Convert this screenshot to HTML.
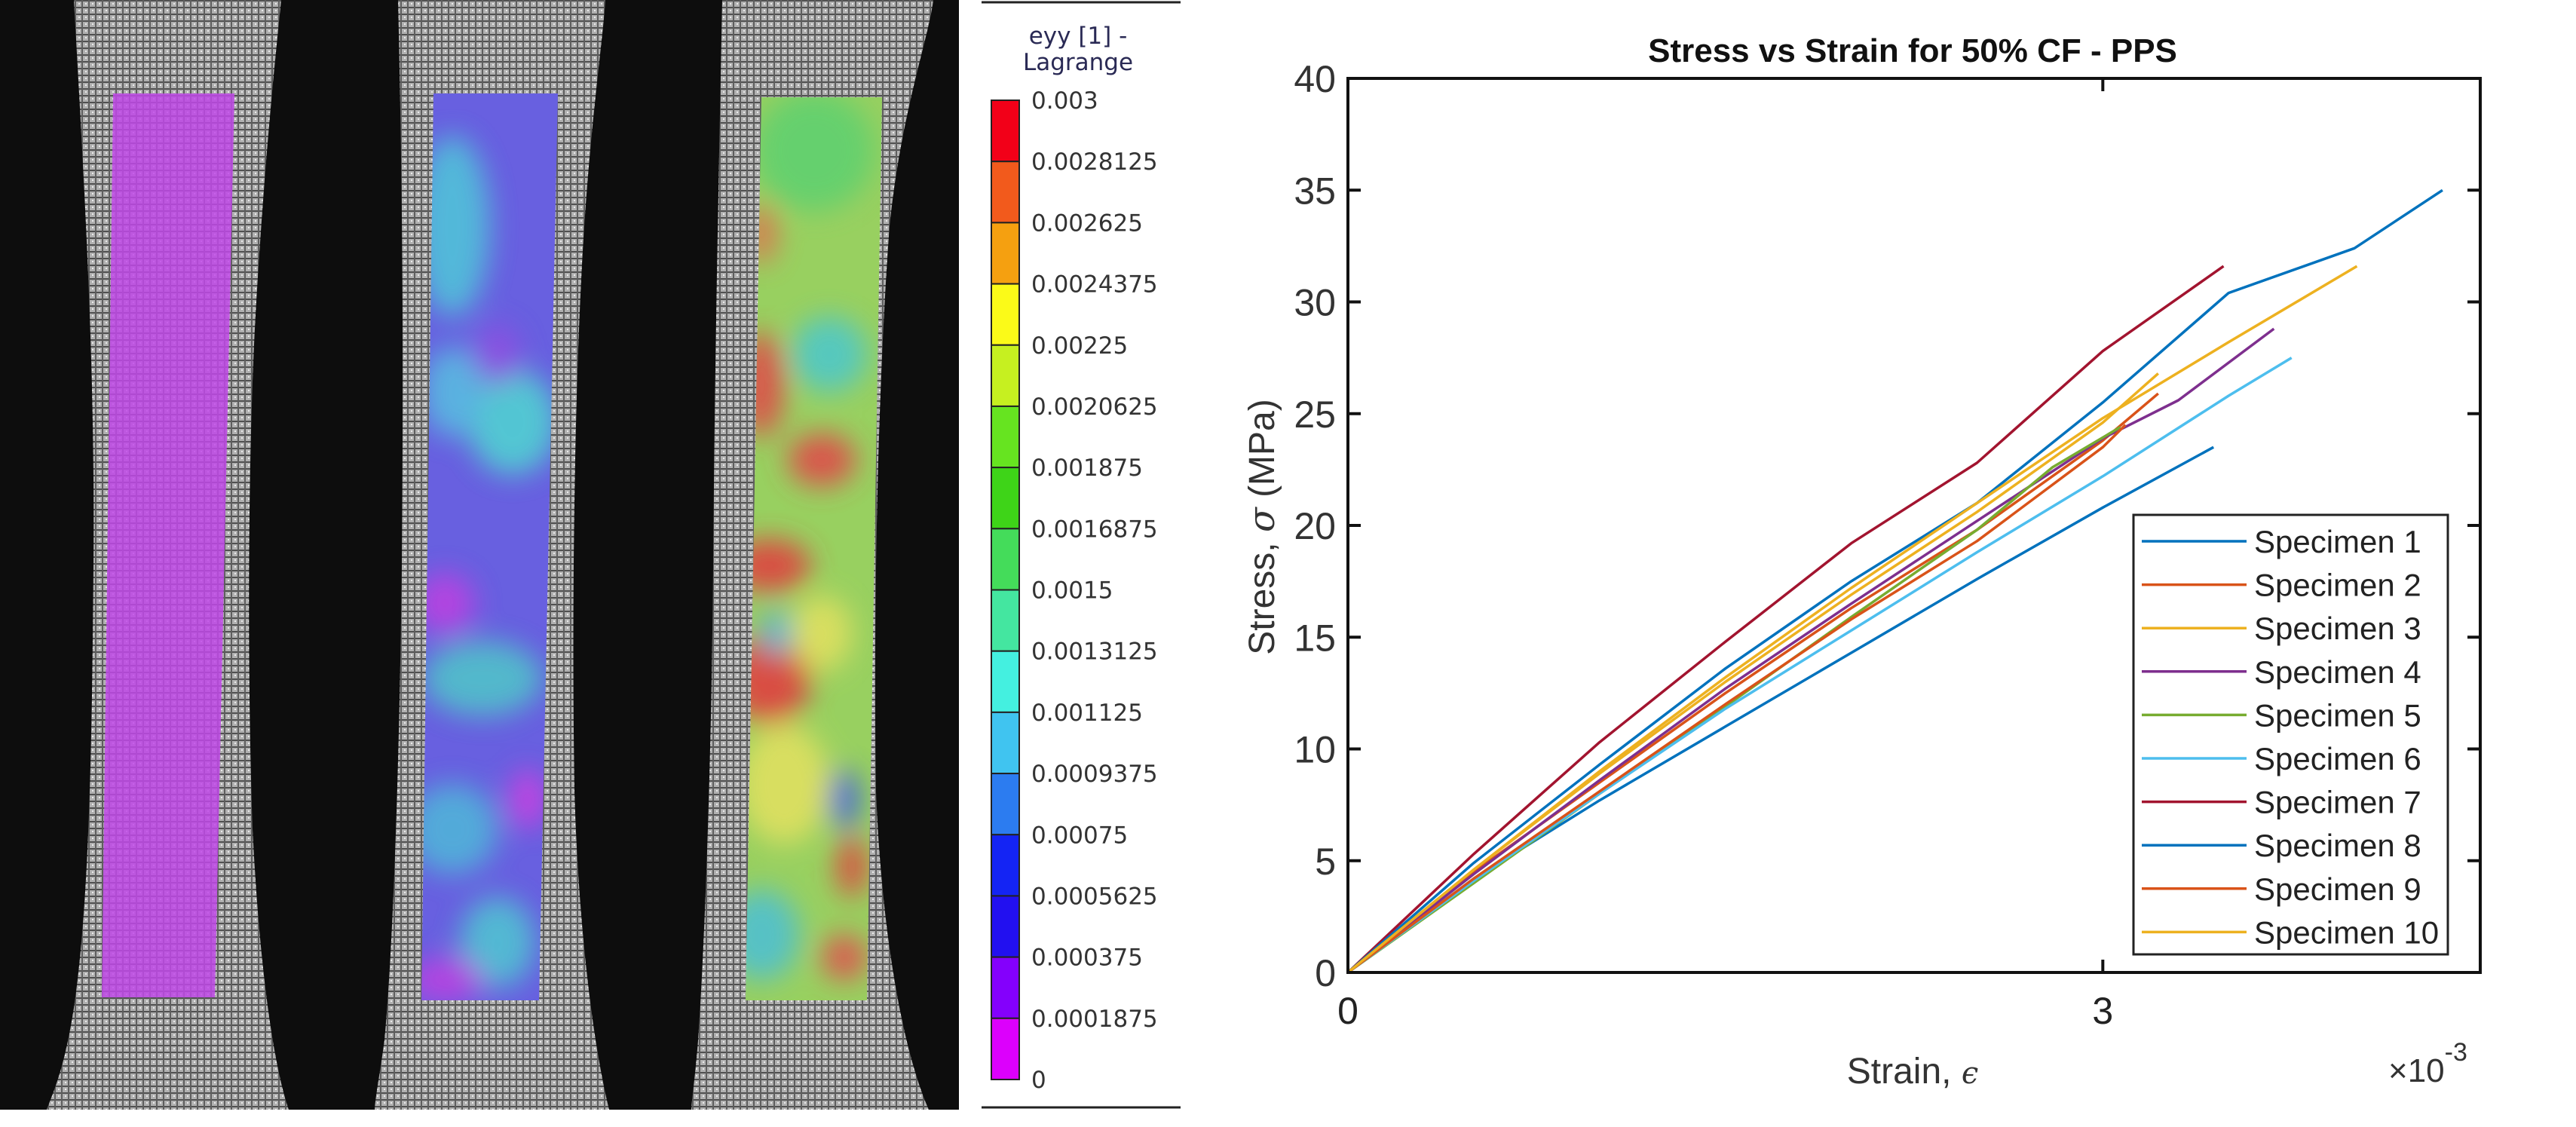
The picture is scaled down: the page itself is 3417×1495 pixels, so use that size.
<!DOCTYPE html>
<html><head><meta charset="utf-8"><style>
html,body{margin:0;padding:0;background:#fff;}
body{width:3417px;height:1495px;position:relative;overflow:hidden;font-family:"Liberation Sans",Arial,sans-serif;}
svg{position:absolute;left:0;top:0;}
</style></head><body>
<svg width="3417" height="1495" viewBox="0 0 3417 1495">
<defs>
<pattern id="speck" width="9" height="9" patternUnits="userSpaceOnUse">
<rect width="9" height="9" fill="#b0b0b0"/>
<rect x="0" y="0" width="9" height="2" fill="#505050"/>
<rect x="0" y="0" width="2" height="9" fill="#5e5e5e"/>
<rect x="5" y="4" width="2" height="2" fill="#eaeaea"/>
</pattern>
<filter id="blur" x="-50%" y="-50%" width="200%" height="200%"><feGaussianBlur stdDeviation="18"/></filter>
<clipPath id="c2"><polygon points="575,124 740,124 715,1327 559,1327"/></clipPath>
<clipPath id="c3"><polygon points="1010,129 1170,129 1150,1327 989,1327"/></clipPath>
</defs>

<g>
<rect x="0" y="0" width="1272" height="1472" fill="#0d0d0d"/>
<path fill="url(#speck)" d="M98,0 C115,300 126,500 124,750 C122,1000 118,1200 98,1337 C85,1420 70,1450 62,1472 L383,1472 C365,1420 345,1300 335,1100 C328,900 328,600 340,400 C352,200 365,80 373,0 Z"/>
<path fill="url(#speck)" d="M528,0 C535,300 535,500 533,750 C530,1000 522,1250 510,1380 C503,1430 498,1455 497,1472 L808,1472 C790,1400 768,1250 762,1050 C758,800 762,500 775,300 C785,150 800,50 803,0 Z"/>
<path fill="url(#speck)" d="M958,0 C952,300 948,500 946,750 C944,1000 935,1250 926,1380 C922,1430 918,1455 917,1472 L1232,1472 C1200,1400 1170,1250 1162,1050 C1158,800 1165,500 1180,300 C1195,150 1232,50 1238,0 Z"/>
<polygon points="150,124 311,124 285,1323 135,1323" fill="#c048e8" opacity="0.85"/>
<g clip-path="url(#c2)">
<rect x="540" y="120" width="220" height="1220" fill="#6860e0"/>
<g filter="url(#blur)" opacity="0.85">
<ellipse cx="600" cy="300" rx="50" ry="120" fill="#50c8d8"/>
<ellipse cx="680" cy="560" rx="60" ry="70" fill="#50d8d0"/>
<ellipse cx="600" cy="520" rx="40" ry="60" fill="#58c0e0"/>
<ellipse cx="640" cy="900" rx="80" ry="50" fill="#50c8c8"/>
<ellipse cx="600" cy="1100" rx="60" ry="60" fill="#50b8d8"/>
<ellipse cx="660" cy="1250" rx="50" ry="60" fill="#50c8d0"/>
<ellipse cx="590" cy="800" rx="40" ry="40" fill="#c040e0"/>
<ellipse cx="700" cy="1060" rx="25" ry="40" fill="#d040e0"/>
<ellipse cx="590" cy="1300" rx="50" ry="30" fill="#c040e0"/>
<ellipse cx="660" cy="470" rx="30" ry="40" fill="#9050e0"/>
</g>
</g>
<g clip-path="url(#c3)">
<rect x="980" y="120" width="200" height="1220" fill="#98d060"/>
<g filter="url(#blur)" opacity="0.9">
<ellipse cx="1080" cy="200" rx="80" ry="80" fill="#60d070"/>
<ellipse cx="1100" cy="470" rx="50" ry="50" fill="#50c8c8"/>
<ellipse cx="1010" cy="510" rx="30" ry="70" fill="#e04848"/>
<ellipse cx="1090" cy="610" rx="45" ry="35" fill="#e04848"/>
<ellipse cx="1020" cy="750" rx="55" ry="35" fill="#e04040"/>
<ellipse cx="1020" cy="900" rx="55" ry="60" fill="#e04040"/>
<ellipse cx="1010" cy="310" rx="20" ry="40" fill="#e07050"/>
<ellipse cx="1090" cy="840" rx="40" ry="50" fill="#e0e060"/>
<ellipse cx="1040" cy="1040" rx="60" ry="80" fill="#e0e060"/>
<ellipse cx="1120" cy="1060" rx="20" ry="40" fill="#4060e0"/>
<ellipse cx="1130" cy="1150" rx="20" ry="40" fill="#e04040"/>
<ellipse cx="1010" cy="1240" rx="50" ry="60" fill="#50c0d0"/>
<ellipse cx="1120" cy="1270" rx="30" ry="30" fill="#e05050"/>
<ellipse cx="1030" cy="840" rx="20" ry="30" fill="#50b0e0"/>
</g>
</g>
</g>

<g>
<line x1="1302" y1="3" x2="1566" y2="3" stroke="#222" stroke-width="3"/>
<line x1="1302" y1="1469" x2="1566" y2="1469" stroke="#222" stroke-width="3"/>
<text x="1430" y="58" font-size="31" fill="#2a2a55" text-anchor="middle" font-family="DejaVu Sans, sans-serif">eyy [1] -</text>
<text x="1430" y="93" font-size="31" fill="#2a2a55" text-anchor="middle" font-family="DejaVu Sans, sans-serif">Lagrange</text>
<g id="cbar"></g>
</g>

<g>
<text x="2537" y="82" font-size="44" font-weight="bold" text-anchor="middle" fill="#111">Stress vs Strain for 50% CF - PPS</text>
<g id="series"></g>
<g id="axes"></g>
<text x="2537" y="1437" font-size="48" text-anchor="middle" fill="#333">Strain, <tspan font-family="DejaVu Serif, serif" font-style="italic" font-size="40">ϵ</tspan></text>
<text x="3168" y="1435" font-size="44" fill="#333">×10<tspan font-size="34" dy="-28">-3</tspan></text>
<text transform="translate(1690,699) rotate(-90)" font-size="48" text-anchor="middle" fill="#333">Stress, <tspan font-family="DejaVu Serif, serif" font-style="italic">σ</tspan> (MPa)</text>
<g id="legend"></g>
</g>
</svg>
<script>
const NS = "http://www.w3.org/2000/svg";
// colorbar data
const cbarLabels = ["0.003","0.0028125","0.002625","0.0024375","0.00225","0.0020625","0.001875","0.0016875","0.0015","0.0013125","0.001125","0.0009375","0.00075","0.0005625","0.000375","0.0001875","0"];
const cbarColors = ["#f20018","#f25a1c","#f5a010","#fbfa18","#c6f020","#66e420","#3ed418","#44dc5a","#44e6a0","#44f0e0","#40c4f0","#2c7cf0","#1424f4","#2210f0","#8400fc","#dc00fc"];
// chart data (strain in 1e-3, stress in MPa)
const names = ["Specimen 1","Specimen 2","Specimen 3","Specimen 4","Specimen 5","Specimen 6","Specimen 7","Specimen 8","Specimen 9","Specimen 10"];
const colors = ["#0072BD","#D95319","#EDB120","#7E2F8E","#77AC30","#4DBEEE","#A2142F","#0072BD","#D95319","#EDB120"];
const s1x = [0,0.5,1,1.5,2,2.5,3,3.44], s1y = [0,4.2,7.7,11,14.3,17.6,20.8,23.5];
const s2x = [0,0.5,1,1.5,2,2.5,3,3.22], s2y = [0,4.5,8.5,12.5,16.3,19.8,23.8,25.9];
const s3x = [0,0.5,1,1.5,2,2.5,3,3.22], s3y = [0,4.6,8.9,13,16.9,20.6,24.6,26.8];
const s4x = [0,0.5,1,1.5,2,2.5,3,3.3,3.68], s4y = [0,4.4,8.6,12.7,16.5,20.2,23.9,25.6,28.8];
const s5x = [0,0.5,1,1.5,2,2.5,2.8,3.07], s5y = [0,4.0,8.0,11.9,15.9,19.8,22.6,24.4];
const s6x = [0,0.5,1,1.5,2,2.5,3,3.5,3.75], s6y = [0,4.1,8.0,11.8,15.3,18.8,22.2,25.8,27.5];
const s7x = [0,0.5,1,1.5,2,2.5,3,3.48], s7y = [0,5.3,10.3,14.8,19.2,22.8,27.8,31.6];
const s8x = [0,0.5,1,1.5,2,2.5,3,3.5,4,4.35], s8y = [0,4.9,9.3,13.6,17.5,21,25.5,30.4,32.4,35.0];
const s9x = [0,0.5,1,1.5,2,2.5,3,3.09], s9y = [0,4.2,8.1,12,15.8,19.3,23.5,24.5];
const s10x = [0,0.5,1,1.5,2,2.5,3,3.5,4.01], s10y = [0,4.6,9,13.2,17.2,21,24.8,28.2,31.6];
const yTicks = [0,5,10,15,20,25,30,35,40];
const xTicks = [0,3];
const xTickLabels = ["0","3"];

const seriesX = [s1x,s2x,s3x,s4x,s5x,s6x,s7x,s8x,s9x,s10x];
const seriesY = [s1y,s2y,s3y,s4y,s5y,s6y,s7y,s8y,s9y,s10y];

const L=1788,R=3290,T=104,B=1290,XMAX=4.5,YMAX=40;
const sx = v => L + v/XMAX*(R-L);
const sy = v => B - v/YMAX*(B-T);
function el(tag, attrs, parent){const e=document.createElementNS(NS,tag);for(const k in attrs)e.setAttribute(k,attrs[k]);parent.appendChild(e);return e;}

// colorbar
const cb=document.getElementById('cbar');
const cbT=133,cbB=1432,seg=(cbB-cbT)/cbarColors.length;
cbarColors.forEach((c,i)=>{
  const r=el('rect',{x:1315,y:cbT+i*seg,width:37,height:seg,fill:c,stroke:'#222','stroke-width':2},cb);
  
  
});
cbarLabels.forEach((t,i)=>{
  const tx=el('text',{x:1368,y:cbT+i*seg+11,'font-size':31,fill:'#333','font-family':'DejaVu Sans, sans-serif'},cb);
  tx.textContent=t;
  
  
});

// series
const sg=document.getElementById('series');
seriesX.forEach((xs,i)=>{
  const d=xs.map((x,j)=>(j?'L':'M')+sx(x).toFixed(1)+','+sy(seriesY[i][j]).toFixed(1)).join(' ');
  const p=el('path',{d:d,fill:'none',stroke:colors[i],'stroke-width':3.5,'stroke-linejoin':'round'},sg);
  
  
});

// axes
const ax=document.getElementById('axes');
const fr=el('rect',{x:L,y:T,width:R-L,height:B-T,fill:'none',stroke:'#111','stroke-width':4},ax);


yTicks.forEach(v=>{
  const y=sy(v);
  el('line',{x1:L,y1:y,x2:L+17,y2:y,stroke:'#111','stroke-width':4},ax);
  el('line',{x1:R,y1:y,x2:R-17,y2:y,stroke:'#111','stroke-width':4},ax);
  const t=el('text',{x:1772,y:y+18,'font-size':50,'text-anchor':'end',fill:'#333'},ax);
  t.textContent=String(v);
  
  
});
xTicks.forEach((v,i)=>{
  const x=sx(v);
  el('line',{x1:x,y1:B,x2:x,y2:B-17,stroke:'#111','stroke-width':4},ax);
  el('line',{x1:x,y1:T,x2:x,y2:T+17,stroke:'#111','stroke-width':4},ax);
  const t=el('text',{x:x,y:1358,'font-size':50,'text-anchor':'middle',fill:'#222'},ax);
  t.textContent=xTickLabels[i];
  
  
});

// legend
const lg=document.getElementById('legend');
el('rect',{x:2830,y:683,width:417,height:583,fill:'#fff',stroke:'#222','stroke-width':3},lg);
names.forEach((n,i)=>{
  const y=718+i*57.6;
  const ln=el('line',{x1:2841,y1:y,x2:2980,y2:y,stroke:colors[i],'stroke-width':3.5},lg);
  
  
  const t=el('text',{x:2990,y:y+15,'font-size':42,fill:'#222'},lg);
  t.textContent=n;
  
  
});
</script>
</body></html>
